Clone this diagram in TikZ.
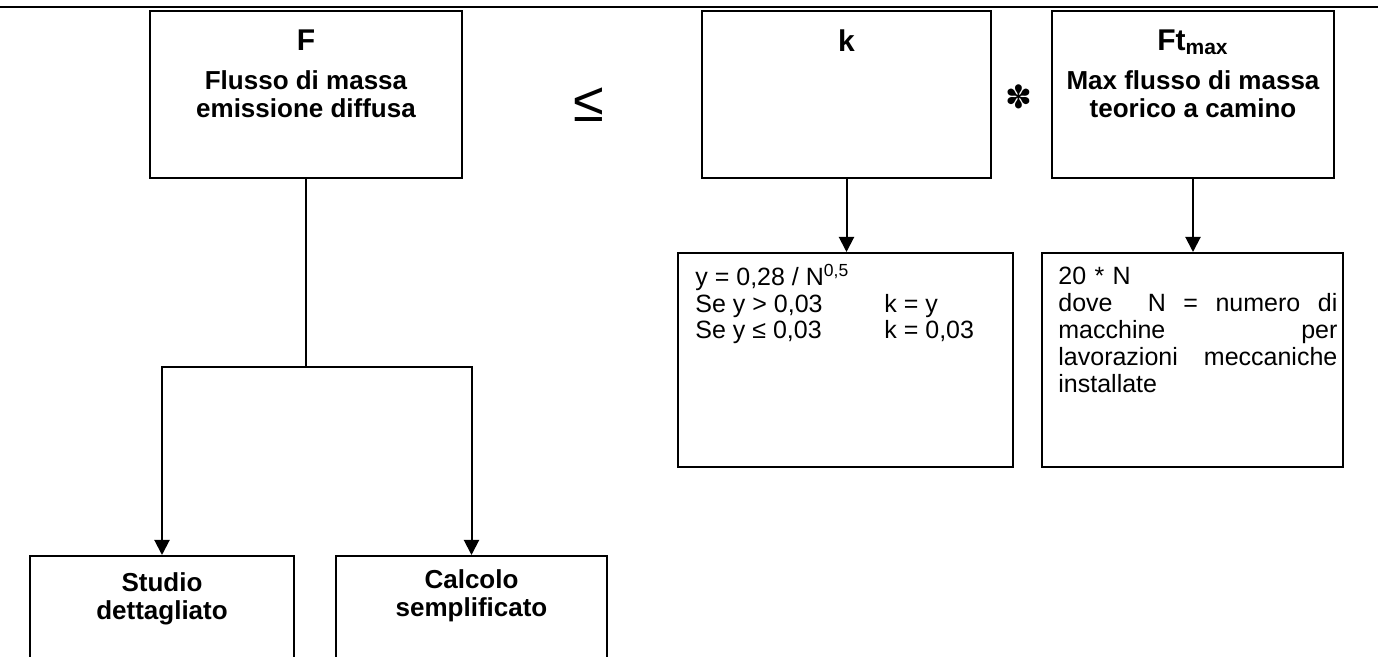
\documentclass[tikz,border=0pt]{standalone}
\usepackage{fontspec}
\setmainfont{Liberation Sans}
\newfontfamily\symfont{DejaVu Sans}
\usetikzlibrary{positioning,arrows.meta}

\tikzset{
  box/.style={draw, line width=1pt, inner sep=0pt},
  headtxt/.style={font=\bfseries\fontsize{13}{14}\selectfont, align=center, inner sep=0pt, anchor=north},
  titletxt/.style={headtxt, font=\bfseries\fontsize{15}{16}\selectfont},
  bodytxt/.style={font=\fontsize{12.5}{13.4}\selectfont, align=left, inner sep=0pt, anchor=north west},
  arr/.style={line width=1pt, -{Triangle[length=7.5pt, width=7.5pt]}}
}

\begin{document}
\begin{tikzpicture}[x=0.5pt, y=-0.5pt]
  %----- frame -----
  \useasboundingbox (0,0) rectangle (1378,657);
  \clip (0,0) rectangle (1378,657);
  \draw[line width=1.25pt] (0,7) -- (1378,7);

  %----- top boxes -----
  \node[box, minimum width=156pt, minimum height=83.5pt] (F) at (306,94.5) {};
  \node[box, minimum width=144.5pt, minimum height=83.5pt] (k) at (846.5,94.5) {};
  \node[box, minimum width=141pt, minimum height=83.5pt] (Ft) at (1193,94.5) {};
  \node[titletxt] (Ftit) at (306,29) {F};
  \node[headtxt] (Ftxt) at (306,70) {Flusso di massa\\emissione diffusa};
  \node[titletxt] (ktit) at (846.5,29) {k};
  \node[titletxt] (Fttit) at (1193,29) {Ft\textsubscript{max}};
  \node[headtxt] (Fttxt) at (1193,70) {Max flusso di massa\\teorico a camino};

  % operatori
  \node[font=\fontsize{28}{28}\selectfont, inner sep=0pt] (leq) at (589,105) {≤};
  \node[font=\symfont\fontsize{16}{16}\selectfont, inner sep=0pt] (times) at (1019,97) {✽};

  %----- formula boxes -----
  \node[box, minimum width=167.5pt, minimum height=107pt] (kf) at (845.5,360) {};
  \node[box, minimum width=150.5pt, minimum height=107pt] (Ftf) at (1192.5,360) {};
  \node[bodytxt] (kftxt) at (695,264)
    {y = 0,28 / N\textsuperscript{0,5}\\
     \makebox[94.5pt][l]{Se y > 0,03}k = y\\
     \makebox[94.5pt][l]{Se y ≤ 0,03}k = 0,03};
  \node[bodytxt, text width=139.5pt] (Fttxt2) at (1058,267)
    {20 * N\\
     \makebox[139.5pt][l]{dove\hfill\hfill N\hfill =\hfill numero\hfill di}\\
     \makebox[139.5pt][l]{macchine\hfill per}\\
     \makebox[139.5pt][l]{lavorazioni\hfill meccaniche}\\
     installate};

  %----- bottom boxes -----
  \node[box, minimum width=132pt, minimum height=82pt] (Studio) at (162,638) {};
  \node[box, minimum width=135.5pt, minimum height=82pt] (Calcolo) at (471.5,638) {};
  \node[headtxt] (Stxt) at (162,572) {Studio\\dettagliato};
  \node[headtxt] (Ctxt) at (471.5,569) {Calcolo\\semplificato};

  %----- connettori -----
  \coordinate (split) at (306,367);
  \draw[line width=1pt] (F.south) -- (split);
  \draw[arr] (split) -| (Studio.north);
  \draw[arr] (split) -| (Calcolo.north);
  \draw[arr] (k.south) -- (k.south |- kf.north);
  \draw[arr] (Ft.south) -- (Ft.south |- Ftf.north);
\end{tikzpicture}
\end{document}
